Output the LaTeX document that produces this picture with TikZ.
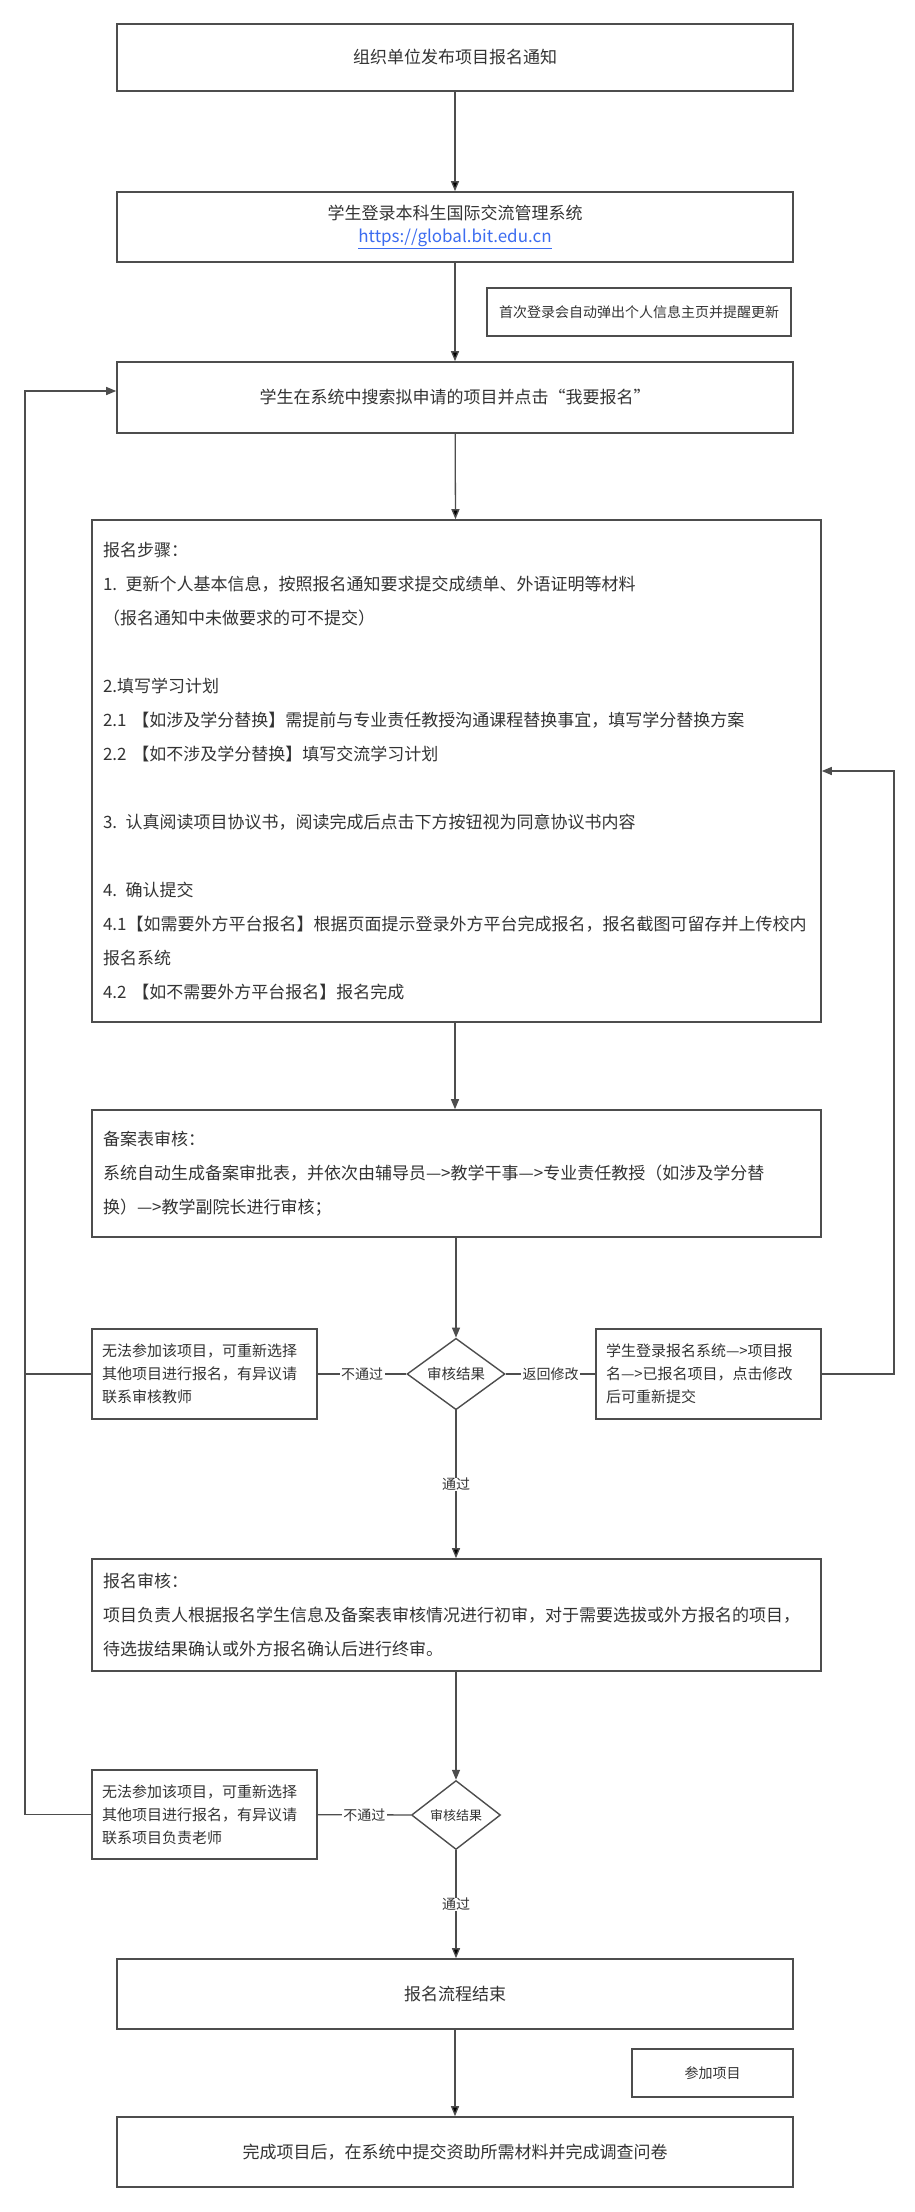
\documentclass[tikz,border=0pt]{standalone}
\usepackage{fontspec}
\setmainfont{Noto Sans CJK SC}
\usetikzlibrary{shapes.geometric,arrows.meta}
\definecolor{linegray}{HTML}{4D4D4D}
\definecolor{textgray}{HTML}{333333}
\definecolor{linkblue}{HTML}{3C6CF0}

\begin{document}
\begin{tikzpicture}[x=1pt, y=-1pt,
	every node/.style={text=textgray, inner sep=0pt},
	box/.style={rectangle, draw=linegray, line width=1.6pt, minimum width=676pt, minimum height=70pt, align=center, font=\fontsize{17pt}{23pt}\selectfont},
	bigbox/.style={rectangle, draw=linegray, line width=1.6pt, minimum width=729pt, inner xsep=11pt, text width=707pt, align=left, font=\fontsize{17pt}{34pt}\selectfont},
	sidebox/.style={rectangle, draw=linegray, line width=1.4pt, minimum width=225pt, minimum height=90pt, inner xsep=10pt, text width=205pt, align=left, font=\fontsize{15pt}{23pt}\selectfont},
	notebox/.style={rectangle, draw=linegray, line width=1.4pt, minimum height=48pt, font=\fontsize{14pt}{16pt}\selectfont},
	decision/.style={diamond, draw=linegray, line width=1.4pt},
	lbl/.style={fill=white, inner xsep=1.5pt, font=\fontsize{14pt}{16pt}\selectfont},
	line/.style={draw=linegray, line width=1.3pt},
	conn/.style={line, -{Triangle[length=10pt,width=8pt]}}]
				\useasboundingbox (0,0) rectangle (915,2212);
				
				\node[box, minimum height=67pt] (n1) at (455,57.5){组织单位发布项目报名通知};
				\node[box] (n2) at (455,227){学生登录本科生国际交流管理系统\\\textcolor{linkblue}{\underline{https://global.bit.edu.cn}}};
				\node[notebox, minimum width=304pt] (note1) at (639,312){首次登录会自动弹出个人信息主页并提醒更新};
				\node[box, minimum height=71pt] (n3) at (455,397.5){学生在系统中搜索拟申请的项目并点击“我要报名”};
				
				\node[bigbox, minimum height=502pt] (n4) at (456.5,771){报名步骤：\\
					1. 更新个人基本信息，按照报名通知要求提交成绩单、外语证明等材料\\
					（报名通知中未做要求的可不提交）\\[34pt]
					2.填写学习计划\\
					2.1 【如涉及学分替换】需提前与专业责任教授沟通课程替换事宜，填写学分替换方案\\
					2.2 【如不涉及学分替换】填写交流学习计划\\[34pt]
					3. 认真阅读项目协议书，阅读完成后点击下方按钮视为同意协议书内容\\[34pt]
					4. 确认提交\\
					4.1【如需要外方平台报名】根据页面提示登录外方平台完成报名，报名截图可留存并上传校内\\
					报名系统\\
					4.2 【如不需要外方平台报名】报名完成};
				
				\node[bigbox, minimum height=127pt] (n5) at (456.5,1173.5){备案表审核：\\
					系统自动生成备案审批表，并依次由辅导员—>教学干事—>专业责任教授（如涉及学分替\\
					换）—>教学副院长进行审核；};
				
				\node[decision, minimum width=98pt, minimum height=70pt, font=\fontsize{14.5pt}{16pt}\selectfont] (d1) at (456,1374){审核结果};
				\node[sidebox] (left1) at (204.5,1374){无法参加该项目，可重新选择\\其他项目进行报名，有异议请\\联系审核教师};
				\node[sidebox] (right1) at (708.5,1374){学生登录报名系统—>项目报\\名—>已报名项目，点击修改\\后可重新提交};
				
				\node[bigbox, minimum height=112pt] (n6) at (456.5,1615){报名审核：\\
					项目负责人根据报名学生信息及备案表审核情况进行初审，对于需要选拔或外方报名的项目，\\
					待选拔结果确认或外方报名确认后进行终审。};
				
				\node[decision, minimum width=89pt, minimum height=69pt, font=\fontsize{13pt}{15pt}\selectfont] (d2) at (456,1815){审核结果};
				\node[sidebox, minimum height=89pt] (left2) at (204.5,1814.5){无法参加该项目，可重新选择\\其他项目进行报名，有异议请\\联系项目负责老师};
				
				\node[box] (n7) at (455,1994){报名流程结束};
				\node[notebox, minimum width=161pt] (note2) at (712.5,2073){参加项目};
				\node[box] (n8) at (455,2152){完成项目后，在系统中提交资助所需材料并完成调查问卷};
				
				\coordinate (loopL) at (25,391);
				\coordinate (loopR) at (894,771);
				
				\path[conn] (n1) edge (n2);
				\path[conn] (n2) edge (n3);
				\path[conn] (n3) edge (n4);
				\draw[conn] (n4.south -| n3) -- (n5.north -| n3);
				\draw[conn] (n5.south -| d1) -- (d1);
				\path[conn] (d1) edge node[lbl]{通过} (n6.north -| d1);
				\path[line] (d1) edge node[lbl]{不通过} (left1);
				\path[line] (d1) edge node[lbl]{返回修改} (right1);
				\draw[conn] (n6.south -| d2) -- (d2);
				\path[line] (d2) edge node[lbl]{不通过} (left2);
				\path[conn] (d2) edge node[lbl]{通过} (n7.north -| d2);
				\path[conn] (n7) edge (n8);
				
				\draw[conn] (left2.west) -| (loopL) -- (loopL -| n3.west);
				\draw[line] (left1.west) -- (left1.west -| loopL);
				\draw[conn] (right1.east) -| (loopR) -- (loopR -| n4.east);
				\end{tikzpicture}
\end{document}
